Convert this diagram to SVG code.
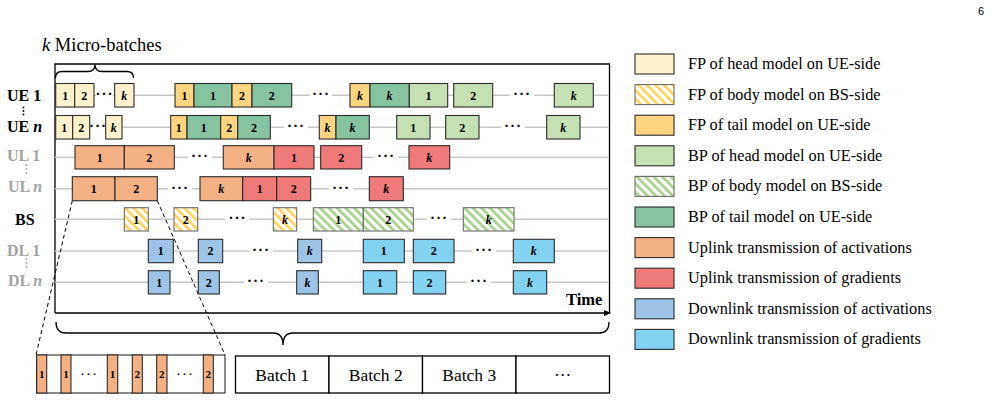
<svg xmlns="http://www.w3.org/2000/svg" width="992" height="415" viewBox="0 0 992 415">
<style>
text{font-family:"Liberation Serif","Times New Roman",serif;fill:#000}
.n{font-size:12px;font-weight:bold;text-anchor:middle}
.k{font-style:italic}
.lbl{font-size:16px;font-weight:bold}
.g{fill:#a3a3a3}
.leg{font-size:16.3px}
.b{stroke:#2b2b2b;stroke-width:1.1}
.hb{stroke:#6b6b6b;stroke-width:1.1}
.fph{fill:#FFF2CC}
.fpt{fill:#FDD580}
.bph{fill:#C5E0B4}
.bpt{fill:#86C3A1}
.ula{fill:#F4B183}
.ulg{fill:#EE7A7A}
.dla{fill:#9DC3E6}
.dlg{fill:#84D2F2}
.fpb{fill:url(#hy)}
.bpb{fill:url(#hg)}
.row{stroke:#c8c8c8;stroke-width:1.5}
.dots{font-size:15px;font-weight:bold;letter-spacing:1px;text-anchor:middle}
.gap{fill:#fff}
.bt{font-size:17.5px;text-anchor:middle}
</style>
<defs>
<pattern id="hy" width="6" height="6" patternUnits="userSpaceOnUse" patternTransform="rotate(-45)"><rect width="6" height="6" fill="#fff"/><rect width="2.8" height="6" fill="#FCD45E"/></pattern>
<pattern id="hg" width="6" height="6" patternUnits="userSpaceOnUse" patternTransform="rotate(-45)"><rect width="6" height="6" fill="#fff"/><rect width="2.8" height="6" fill="#A9D18E"/></pattern>
<marker id="arr" markerWidth="8" markerHeight="8" refX="6" refY="4" orient="auto" markerUnits="userSpaceOnUse"><path d="M0,1 L7,4 L0,7 Z" fill="#000"/></marker>
</defs>

<text x="978" y="15" style="font-family:'Liberation Sans',Arial,sans-serif;font-size:11px">6</text>

<!-- frame -->
<g id="frame" fill="none" stroke="#000">
<path d="M55,313 L55,64 L609.5,64 L609.5,313" stroke-width="1.3"/>
<line x1="55" y1="313" x2="610" y2="313" stroke-width="1.5" marker-end="url(#arr)"/>
</g>
<text x="566" y="305" style="font-size:16.5px;font-weight:bold">Time</text>
<text x="42" y="51" style="font-size:18.5px"><tspan class="k">k</tspan> Micro-batches</text>
<path d="M55.5,78 Q55.5,71.5 62,71.5 L88,71.5 Q95,71.5 95,64.5 Q95,71.5 102,71.5 L127,71.5 Q133.5,71.5 133.5,78" fill="none" stroke="#000" stroke-width="1.3"/>

<!-- row labels -->
<g id="labels">
<text class="lbl" x="7" y="101">UE 1</text>
<text class="lbl" x="7" y="132">UE <tspan class="k">n</tspan></text>
<text class="lbl g" x="7" y="161">UL 1</text>
<text class="lbl g" x="8" y="192">UL <tspan class="k">n</tspan></text>
<text class="lbl" x="15" y="224.5">BS</text>
<text class="lbl g" x="7" y="255.5">DL 1</text>
<text class="lbl g" x="8" y="286">DL <tspan class="k">n</tspan></text>
<g fill="#000"><circle cx="23.5" cy="107.5" r="0.9"/><circle cx="23.5" cy="111" r="0.9"/><circle cx="23.5" cy="114.5" r="0.9"/></g>
<g fill="#a3a3a3"><circle cx="26.5" cy="165" r="0.9"/><circle cx="26.5" cy="169" r="0.9"/><circle cx="26.5" cy="173" r="0.9"/></g>
<g fill="#a3a3a3"><circle cx="26.5" cy="259" r="0.9"/><circle cx="26.5" cy="263" r="0.9"/><circle cx="26.5" cy="267" r="0.9"/></g>
</g>

<!-- connectors: row lines, zoom lines -->
<g id="connectors">
<line class="row" x1="55" y1="95.3" x2="609" y2="95.3"/>
<line class="row" x1="55" y1="127.3" x2="609" y2="127.3"/>
<line class="row" x1="55" y1="157.3" x2="609" y2="157.3"/>
<line class="row" x1="55" y1="188.7" x2="609" y2="188.7"/>
<line class="row" x1="55" y1="219.3" x2="609" y2="219.3"/>
<line class="row" x1="55" y1="251" x2="609" y2="251"/>
<line class="row" x1="55" y1="282.3" x2="609" y2="282.3"/>
<line x1="72.3" y1="200.7" x2="36" y2="355" stroke="#000" stroke-width="1" stroke-dasharray="4,3"/>
<line x1="157.3" y1="200.7" x2="225" y2="355" stroke="#000" stroke-width="1" stroke-dasharray="4,3"/>
</g>

<!-- dots -->
<g id="ellipses">
<rect class="gap" x="96" y="90" width="17" height="10"/><text class="dots" x="104.5" y="99">···</text>
<rect class="gap" x="310" y="90" width="22" height="10"/><text class="dots" x="321" y="99">···</text>
<rect class="gap" x="510" y="90" width="24" height="10"/><text class="dots" x="522" y="99">···</text>
<rect class="gap" x="91" y="122" width="14" height="10"/><text class="dots" x="98" y="131">···</text>
<rect class="gap" x="284" y="122" width="24" height="10"/><text class="dots" x="296" y="131">···</text>
<rect class="gap" x="501" y="122" width="24" height="10"/><text class="dots" x="513" y="131">···</text>
<rect class="gap" x="188" y="152" width="24" height="10"/><text class="dots" x="200" y="161">···</text>
<rect class="gap" x="374" y="152" width="24" height="10"/><text class="dots" x="386" y="161">···</text>
<rect class="gap" x="168" y="183" width="24" height="10"/><text class="dots" x="180" y="192.5">···</text>
<rect class="gap" x="329" y="183" width="24" height="10"/><text class="dots" x="341" y="192.5">···</text>
<rect class="gap" x="225" y="214" width="24" height="10"/><text class="dots" x="237.5" y="223">···</text>
<rect class="gap" x="427" y="214" width="24" height="10"/><text class="dots" x="439" y="223">···</text>
<rect class="gap" x="249" y="246" width="24" height="10"/><text class="dots" x="261" y="255">···</text>
<rect class="gap" x="472" y="246" width="24" height="10"/><text class="dots" x="484" y="255">···</text>
<rect class="gap" x="244" y="277" width="24" height="10"/><text class="dots" x="256" y="286">···</text>
<rect class="gap" x="467" y="277" width="24" height="10"/><text class="dots" x="479" y="286">···</text>
</g>

<!-- UE 1 row -->
<g id="ue1-fph1"><rect class="b fph" x="55.7" y="83.5" width="19" height="23.5"/><text class="n" x="65.2" y="99.6">1</text></g>
<g id="ue1-fph2"><rect class="b fph" x="74.7" y="83.5" width="19.3" height="23.5"/><text class="n" x="84.3" y="99.6">2</text></g>
<g id="ue1-fphk"><rect class="b fph" x="114.7" y="83.5" width="19.3" height="23.5"/><text class="n k" x="124.3" y="99.6">k</text></g>
<g id="ue1-fpt1"><rect class="b fpt" x="175" y="83.5" width="19" height="23.5"/><text class="n" x="184.5" y="99.6">1</text></g>
<g id="ue1-bpt1"><rect class="b bpt" x="194" y="83.5" width="38" height="23.5"/><text class="n" x="213" y="99.6">1</text></g>
<g id="ue1-fpt2"><rect class="b fpt" x="232" y="83.5" width="20" height="23.5"/><text class="n" x="242" y="99.6">2</text></g>
<g id="ue1-bpt2"><rect class="b bpt" x="252" y="83.5" width="39.7" height="23.5"/><text class="n" x="271.8" y="99.6">2</text></g>
<g id="ue1-fptk"><rect class="b fpt" x="350" y="83.5" width="20" height="23.5"/><text class="n k" x="360" y="99.6">k</text></g>
<g id="ue1-bptk"><rect class="b bpt" x="370" y="83.5" width="39.3" height="23.5"/><text class="n k" x="389.6" y="99.6">k</text></g>
<g id="ue1-bph1"><rect class="b bph" x="409.3" y="83.5" width="38.4" height="23.5"/><text class="n" x="428.5" y="99.6">1</text></g>
<g id="ue1-bph2"><rect class="b bph" x="453.7" y="83.5" width="39" height="23.5"/><text class="n" x="473.2" y="99.6">2</text></g>
<g id="ue1-bphk"><rect class="b bph" x="554.3" y="83.5" width="39" height="23.5"/><text class="n k" x="573.8" y="99.6">k</text></g>

<!-- UE n row -->
<g id="uen-fph1"><rect class="b fph" x="55.7" y="115.5" width="17" height="23.5"/><text class="n" x="64.2" y="131.6">1</text></g>
<g id="uen-fph2"><rect class="b fph" x="72.7" y="115.5" width="17" height="23.5"/><text class="n" x="81.2" y="131.6">2</text></g>
<g id="uen-fphk"><rect class="b fph" x="105.7" y="115.5" width="16.3" height="23.5"/><text class="n k" x="113.8" y="131.6">k</text></g>
<g id="uen-fpt1"><rect class="b fpt" x="170.7" y="115.5" width="16.3" height="23.5"/><text class="n" x="178.8" y="131.6">1</text></g>
<g id="uen-bpt1"><rect class="b bpt" x="187" y="115.5" width="33.7" height="23.5"/><text class="n" x="203.8" y="131.6">1</text></g>
<g id="uen-fpt2"><rect class="b fpt" x="220.7" y="115.5" width="17" height="23.5"/><text class="n" x="229.2" y="131.6">2</text></g>
<g id="uen-bpt2"><rect class="b bpt" x="237.7" y="115.5" width="32.6" height="23.5"/><text class="n" x="254" y="131.6">2</text></g>
<g id="uen-fptk"><rect class="b fpt" x="319.3" y="115.5" width="16.7" height="23.5"/><text class="n k" x="327.6" y="131.6">k</text></g>
<g id="uen-bptk"><rect class="b bpt" x="336" y="115.5" width="33.3" height="23.5"/><text class="n k" x="352.6" y="131.6">k</text></g>
<g id="uen-bph1"><rect class="b bph" x="396.7" y="115.5" width="33.3" height="23.5"/><text class="n" x="413.3" y="131.6">1</text></g>
<g id="uen-bph2"><rect class="b bph" x="445.7" y="115.5" width="33.3" height="23.5"/><text class="n" x="462.3" y="131.6">2</text></g>
<g id="uen-bphk"><rect class="b bph" x="546.7" y="115.5" width="33.3" height="23.5"/><text class="n k" x="563.3" y="131.6">k</text></g>

<!-- UL 1 row -->
<g id="ul1-a1"><rect class="b ula" x="75" y="145.7" width="49.3" height="23.3"/><text class="n" x="99.7" y="161.6">1</text></g>
<g id="ul1-a2"><rect class="b ula" x="124.3" y="145.7" width="50" height="23.3"/><text class="n" x="149.3" y="161.6">2</text></g>
<g id="ul1-ak"><rect class="b ula" x="223.3" y="145.7" width="50.7" height="23.3"/><text class="n k" x="248.7" y="161.6">k</text></g>
<g id="ul1-g1"><rect class="b ulg" x="274" y="145.7" width="40" height="23.3"/><text class="n" x="294" y="161.6">1</text></g>
<g id="ul1-g2"><rect class="b ulg" x="320.7" y="145.7" width="41" height="23.3"/><text class="n" x="341.2" y="161.6">2</text></g>
<g id="ul1-gk"><rect class="b ulg" x="409" y="145.7" width="40.7" height="23.3"/><text class="n k" x="429.3" y="161.6">k</text></g>

<!-- UL n row -->
<g id="uln-a1"><rect class="b ula" x="72.3" y="176.7" width="42.7" height="24"/><text class="n" x="93.7" y="193">1</text></g>
<g id="uln-a2"><rect class="b ula" x="115" y="176.7" width="42.3" height="24"/><text class="n" x="136.2" y="193">2</text></g>
<g id="uln-ak"><rect class="b ula" x="200" y="176.7" width="42.7" height="24"/><text class="n k" x="221.3" y="193">k</text></g>
<g id="uln-g1"><rect class="b ulg" x="242.7" y="176.7" width="34" height="24"/><text class="n" x="259.7" y="193">1</text></g>
<g id="uln-g2"><rect class="b ulg" x="276.7" y="176.7" width="34" height="24"/><text class="n" x="293.7" y="193">2</text></g>
<g id="uln-gk"><rect class="b ulg" x="369.3" y="176.7" width="34" height="24"/><text class="n k" x="386.3" y="193">k</text></g>

<!-- BS row -->
<g id="bs-f1"><rect class="hb fpb" x="124.3" y="207.7" width="24" height="23.3"/><text class="n" x="136.3" y="223.6">1</text></g>
<g id="bs-f2"><rect class="hb fpb" x="174" y="207.7" width="23.7" height="23.3"/><text class="n" x="185.8" y="223.6">2</text></g>
<g id="bs-fk"><rect class="hb fpb" x="273.3" y="207.7" width="23.4" height="23.3"/><text class="n k" x="285" y="223.6">k</text></g>
<g id="bs-b1"><rect class="hb bpb" x="313.3" y="207.7" width="50" height="23.3"/><text class="n" x="338.3" y="223.6">1</text></g>
<g id="bs-b2"><rect class="hb bpb" x="363.3" y="207.7" width="50" height="23.3"/><text class="n" x="388.3" y="223.6">2</text></g>
<g id="bs-bk"><rect class="hb bpb" x="463.3" y="207.7" width="50.7" height="23.3"/><text class="n k" x="488.7" y="223.6">k</text></g>

<!-- DL 1 row -->
<g id="dl1-a1"><rect class="b dla" x="148.3" y="239.3" width="25" height="23.4"/><text class="n" x="160.8" y="255.3">1</text></g>
<g id="dl1-a2"><rect class="b dla" x="198.3" y="239.3" width="24.4" height="23.4"/><text class="n" x="210.5" y="255.3">2</text></g>
<g id="dl1-ak"><rect class="b dla" x="297.7" y="239.3" width="24" height="23.4"/><text class="n k" x="309.7" y="255.3">k</text></g>
<g id="dl1-g1"><rect class="b dlg" x="363.3" y="239.3" width="41" height="23.4"/><text class="n" x="383.8" y="255.3">1</text></g>
<g id="dl1-g2"><rect class="b dlg" x="413.3" y="239.3" width="40.7" height="23.4"/><text class="n" x="433.7" y="255.3">2</text></g>
<g id="dl1-gk"><rect class="b dlg" x="513.3" y="239.3" width="41" height="23.4"/><text class="n k" x="533.8" y="255.3">k</text></g>

<!-- DL n row -->
<g id="dln-a1"><rect class="b dla" x="148.3" y="270.7" width="21.7" height="23.3"/><text class="n" x="159.2" y="286.6">1</text></g>
<g id="dln-a2"><rect class="b dla" x="198.3" y="270.7" width="21" height="23.3"/><text class="n" x="208.8" y="286.6">2</text></g>
<g id="dln-ak"><rect class="b dla" x="296.7" y="270.7" width="21.6" height="23.3"/><text class="n k" x="307.5" y="286.6">k</text></g>
<g id="dln-g1"><rect class="b dlg" x="363.3" y="270.7" width="33.4" height="23.3"/><text class="n" x="380" y="286.6">1</text></g>
<g id="dln-g2"><rect class="b dlg" x="413.3" y="270.7" width="32.4" height="23.3"/><text class="n" x="429.5" y="286.6">2</text></g>
<g id="dln-gk"><rect class="b dlg" x="513.3" y="270.7" width="33.4" height="23.3"/><text class="n k" x="530" y="286.6">k</text></g>

<!-- bottom brace -->
<path d="M56,322 Q56,333 66,333 L273,333 Q283,333 283,345 Q283,333 293,333 L599,333 Q609,333 609,322" fill="none" stroke="#000" stroke-width="1.3"/>

<!-- zoomed micro-batch strip -->
<g id="strip">
<rect x="36.5" y="355" width="188.5" height="38" fill="#fff" stroke="#2b2b2b" stroke-width="1.1"/>
<g class="b"><rect class="ula" x="36.7" y="355" width="10" height="38"/><rect class="ula" x="61" y="355" width="10" height="38"/><rect class="ula" x="107.3" y="355" width="10.4" height="38"/><rect class="ula" x="132.3" y="355" width="10" height="38"/><rect class="ula" x="156.7" y="355" width="10.3" height="38"/><rect class="ula" x="203.3" y="355" width="10" height="38"/></g>
<g style="font-size:11px;font-weight:bold" text-anchor="middle"><text x="41.7" y="378">1</text><text x="66" y="378">1</text><text x="112.5" y="378">1</text><text x="137.3" y="378">2</text><text x="161.8" y="378">2</text><text x="208.3" y="378">2</text></g>
<text class="dots" x="89" y="379" style="font-weight:normal">···</text>
<text class="dots" x="185" y="379" style="font-weight:normal">···</text>
</g>

<!-- batches -->
<g id="batch1"><rect x="235.5" y="356" width="93.5" height="37" fill="#fff" stroke="#000" stroke-width="1.3"/><text class="bt" x="282.2" y="380.5">Batch 1</text></g>
<g id="batch2"><rect x="329" y="356" width="93.5" height="37" fill="#fff" stroke="#000" stroke-width="1.3"/><text class="bt" x="375.7" y="380.5">Batch 2</text></g>
<g id="batch3"><rect x="422.5" y="356" width="93.5" height="37" fill="#fff" stroke="#000" stroke-width="1.3"/><text class="bt" x="469.2" y="380.5">Batch 3</text></g>
<g id="batch4"><rect x="516" y="356" width="93.5" height="37" fill="#fff" stroke="#000" stroke-width="1.3"/><text class="bt" x="562.7" y="380.5">···</text></g>

<!-- legend -->
<g id="leg-fph"><rect class="b fph" x="635" y="54" width="39" height="20"/><text class="leg" x="688" y="69">FP of head model on UE-side</text></g>
<g id="leg-fpb"><rect class="hb fpb" x="635" y="84.6" width="39" height="20"/><text class="leg" x="688" y="99.6">FP of body model on BS-side</text></g>
<g id="leg-fpt"><rect class="b fpt" x="635" y="115.2" width="39" height="20"/><text class="leg" x="688" y="130.2">FP of tail model on UE-side</text></g>
<g id="leg-bph"><rect class="b bph" x="635" y="145.8" width="39" height="20"/><text class="leg" x="688" y="160.8">BP of head model on UE-side</text></g>
<g id="leg-bpb"><rect class="hb bpb" x="635" y="176.4" width="39" height="20"/><text class="leg" x="688" y="191.4">BP of body model on BS-side</text></g>
<g id="leg-bpt"><rect class="b bpt" x="635" y="207" width="39" height="20"/><text class="leg" x="688" y="222">BP of tail model on UE-side</text></g>
<g id="leg-ula"><rect class="b ula" x="635" y="237.6" width="39" height="20"/><text class="leg" x="688" y="252.6">Uplink transmission of activations</text></g>
<g id="leg-ulg"><rect class="b ulg" x="635" y="268.2" width="39" height="20"/><text class="leg" x="688" y="283.2">Uplink transmission of gradients</text></g>
<g id="leg-dla"><rect class="b dla" x="635" y="298.8" width="39" height="20"/><text class="leg" x="688" y="313.8">Downlink transmission of activations</text></g>
<g id="leg-dlg"><rect class="b dlg" x="635" y="329.4" width="39" height="20"/><text class="leg" x="688" y="344.4">Downlink transmission of gradients</text></g>
</svg>
